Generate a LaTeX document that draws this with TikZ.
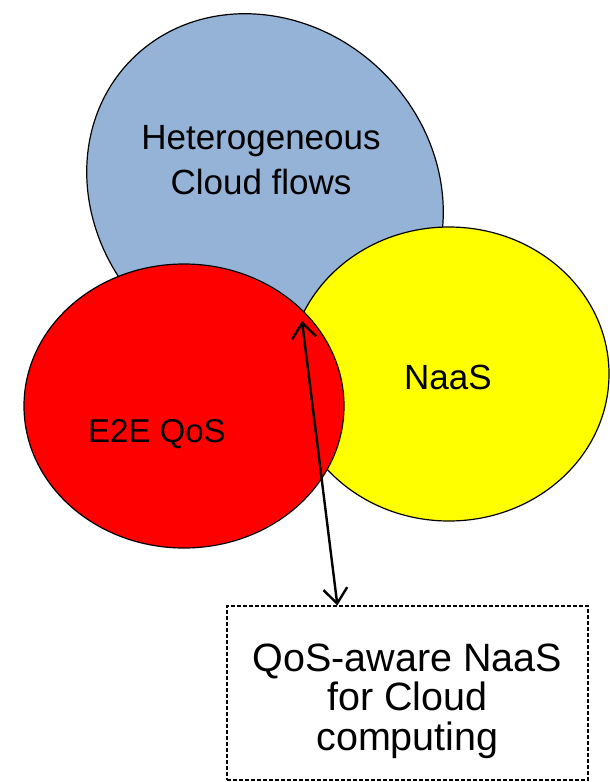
\documentclass[tikz,border=0pt]{standalone}
\usepackage{fontspec}
\setmainfont{Liberation Sans}
\usepackage{tikz}
\usetikzlibrary{arrows.meta, shapes.geometric}

\definecolor{flowblue}{RGB}{149,179,215}
\definecolor{naasyellow}{RGB}{255,255,0}
\definecolor{qosred}{RGB}{255,0,0}

\begin{document}
\begin{tikzpicture}[x=1pt,y=-1pt,
    blob/.style={ellipse,draw,line width=1.2pt,inner sep=0pt},
    >={Straight Barb[length=15pt,width=24pt]}]
    \useasboundingbox (0,0) rectangle (610,782);
    \node[blob,fill=flowblue,minimum width=376pt,minimum height=336pt,rotate=-45](flows) at (265,192){};
    \node[blob,fill=naasyellow,minimum width=320pt,minimum height=294pt](naas) at (449,374){};
    \node[blob,fill=qosred,minimum width=320pt,minimum height=284pt](qos) at (184,406){};
    \node[align=center,font=\fontsize{35}{45}\selectfont](flowstxt) at (261,160){Heterogeneous\\Cloud flows};
    \node[anchor=base,font=\fontsize{35}{42}\selectfont](naastxt) at (448,389){NaaS};
    \node[anchor=base,font=\fontsize{33}{40}\selectfont](qostxt) at (157,442){E2E QoS};
    \node[draw,dash pattern=on 4pt off 2pt,line width=1.2pt,minimum width=361pt,minimum height=174pt](box) at (407.5,693){};
    \node[align=center,anchor=base,font=\fontsize{39.5}{39.5}\selectfont](boxtxt) at (407.5,750){QoS-aware NaaS\\for Cloud\\computing};
    \coordinate (meet) at (302,321);
    \draw[<->,line width=2.4pt] (meet) -- ([xshift=111pt]box.north west);
\end{tikzpicture}
\end{document}
